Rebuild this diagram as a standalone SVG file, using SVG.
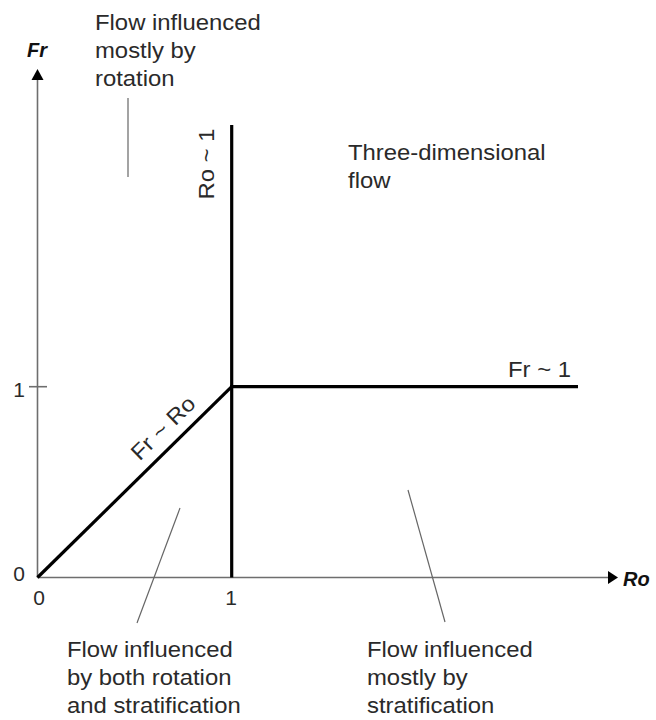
<svg xmlns="http://www.w3.org/2000/svg" width="656" height="720" viewBox="0 0 656 720">
<defs>
<style>
.lbl{font-family:"Liberation Sans",Arial,sans-serif;font-size:22px;fill:#2a2a2a}
.num{font-family:"Liberation Sans",Arial,sans-serif;font-size:21px;fill:#2a2a2a}
.ax{font-family:"Liberation Sans",Arial,sans-serif;font-size:20px;font-weight:bold;font-style:italic;fill:#111}
.axis{stroke:#6e6e6e;stroke-width:1.6;fill:none}
.bound{stroke:#000;stroke-width:3.2;fill:none;stroke-linecap:butt}
.leader{stroke:#666;stroke-width:1.2;fill:none}
</style>
</defs>
<rect width="656" height="720" fill="#fff"/>
<g id="axes">
<line class="axis" x1="37.5" y1="577.5" x2="37.5" y2="80" />
<path d="M37.5,69 L43.5,80 L31.5,80 Z" fill="#000"/>
<line class="axis" x1="37.5" y1="577.5" x2="608" y2="577.5"/>
<path d="M618,577.5 L608,571 L608,584 Z" fill="#000"/>
<line class="axis" x1="29" y1="386.7" x2="47" y2="386.7"/>
<text class="ax" x="37" y="57" text-anchor="middle">Fr</text>
<text class="ax" x="623" y="586">Ro</text>
<text class="num" x="19" y="397" text-anchor="middle">1</text>
<text class="num" x="19" y="581" text-anchor="middle">0</text>
<text class="num" x="39" y="605" text-anchor="middle">0</text>
<text class="num" x="231" y="605" text-anchor="middle">1</text>
</g>
<g id="connectors">
<line class="bound" x1="37.5" y1="577.5" x2="231.7" y2="386.7"/>
<line class="bound" x1="231.7" y1="125" x2="231.7" y2="577.5"/>
<line class="bound" x1="230" y1="386.7" x2="578" y2="386.7"/>
<line class="leader" x1="128" y1="98" x2="128" y2="177"/>
<line class="leader" x1="180" y1="508" x2="137" y2="623"/>
<line class="leader" x1="408" y1="490" x2="445" y2="622"/>
</g>
<g id="boundary-labels">
<text class="lbl" transform="translate(214,164) rotate(-90) scale(1.085,1)" text-anchor="middle">Ro ~ 1</text>
<text class="lbl" transform="translate(508,377) scale(1.085,1)">Fr ~ 1</text>
<text class="lbl" transform="translate(168.3,433.3) rotate(-44.6) scale(1.085,1)" text-anchor="middle">Fr ~ Ro</text>
</g>
<g id="region-rotation" transform="translate(95,0) scale(1.085,1)">
<text class="lbl" x="0" y="30">Flow influenced</text>
<text class="lbl" x="0" y="58">mostly by</text>
<text class="lbl" x="0" y="86">rotation</text>
</g>
<g id="region-3d" transform="translate(348,0) scale(1.085,1)">
<text class="lbl" x="0" y="160">Three-dimensional</text>
<text class="lbl" x="0" y="188">flow</text>
</g>
<g id="region-both" transform="translate(67,0) scale(1.085,1)">
<text class="lbl" x="0" y="657">Flow influenced</text>
<text class="lbl" x="0" y="685">by both rotation</text>
<text class="lbl" x="0" y="713">and stratification</text>
</g>
<g id="region-stratification" transform="translate(367,0) scale(1.085,1)">
<text class="lbl" x="0" y="657">Flow influenced</text>
<text class="lbl" x="0" y="685">mostly by</text>
<text class="lbl" x="0" y="713">stratification</text>
</g>
</svg>
